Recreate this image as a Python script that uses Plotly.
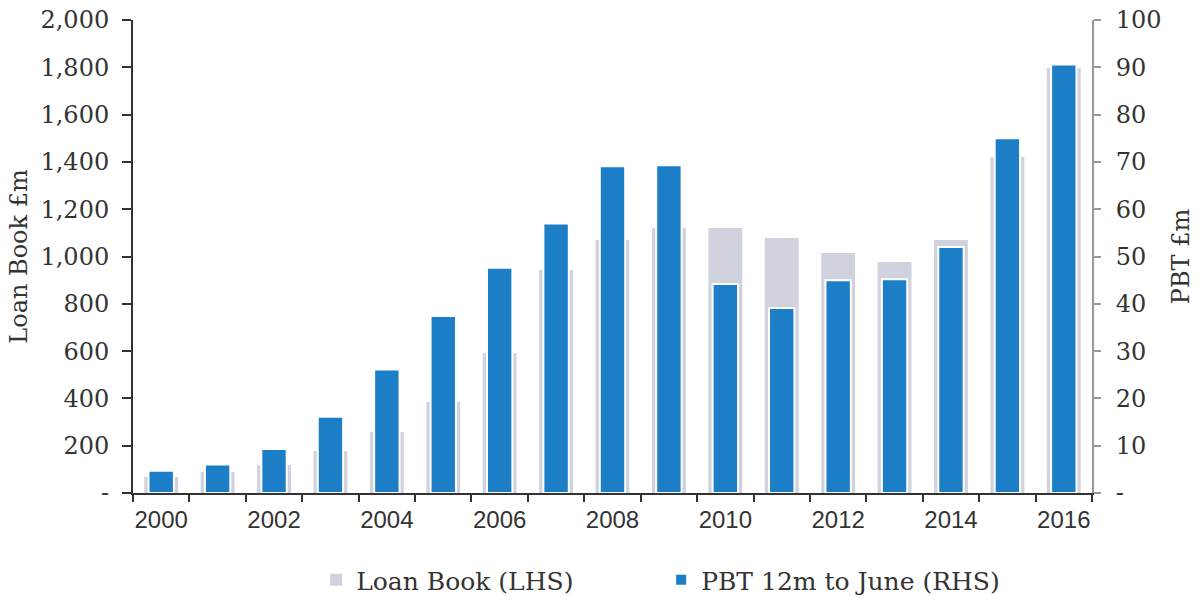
import plotly.graph_objects as go

# Financial years and the two series
years = [str(y) for y in range(2000, 2017)]
loan_book = [68, 89, 118, 178, 258, 385, 592, 943, 1070, 1120, 1120, 1078, 1015, 977, 1070, 1421, 1797]
pbt = [4.7, 6.0, 9.3, 16.1, 26.1, 37.4, 47.6, 57.0, 69.1, 69.3, 44.2, 39.1, 45.0, 45.2, 52.0, 75.0, 90.6]

x_labels = [y if int(y) % 2 == 0 else "" for y in years]
left_vals = list(range(0, 2001, 200))
left_text = ["-"] + [f"{v:,}" for v in left_vals[1:]]
right_vals = list(range(0, 101, 10))
right_text = ["-"] + [str(v) for v in right_vals[1:]]

GREY = "rgb(208,211,222)"
BLUE = "rgb(27,126,199)"
TEXT = "#333333"
SERIF = "Georgia, DejaVu Serif, serif"

fig = go.Figure()
fig.add_trace(go.Bar(
    x=years, y=loan_book, name="Loan Book (LHS)",
    marker=dict(color=GREY, line=dict(width=0)),
    width=0.6, yaxis="y",
))
fig.add_trace(go.Bar(
    x=years, y=pbt, name="PBT 12m to June (RHS)",
    marker=dict(color=BLUE, line=dict(color="white", width=2)),
    width=0.45, yaxis="y2",
))

fig.update_layout(
    width=1203, height=602,
    margin=dict(l=133, r=111, t=20, b=109, autoexpand=False),
    paper_bgcolor="white", plot_bgcolor="white",
    barmode="overlay",
    showlegend=True,
    legend=dict(
        orientation="h", x=0.191, xanchor="left", y=-0.184, yanchor="middle",
        font=dict(family=SERIF, size=25, color=TEXT),
        itemwidth=30, entrywidth=300, traceorder="normal",
    ),
    xaxis=dict(
        type="category", range=[-0.5, 16.5], automargin=False,
        tickmode="array", tickvals=years, ticktext=x_labels, tickangle=0,
        tickson="boundaries", ticks="outside", ticklen=7, tickwidth=2,
        tickcolor=TEXT, showline=True, linecolor=TEXT, linewidth=2,
        showgrid=False, zeroline=False, ticklabelstandoff=4,
        tickfont=dict(family="Liberation Sans, Arial, sans-serif", size=24, color=TEXT),
    ),
    yaxis=dict(
        range=[0, 2000], tickmode="array", tickvals=left_vals, ticktext=left_text,
        ticks="outside", ticklen=9, tickwidth=2, tickcolor=TEXT, automargin=False,
        showline=True, linecolor=TEXT, linewidth=2,
        showgrid=False, zeroline=False, ticklabelstandoff=8,
        tickfont=dict(family=SERIF, size=24, color=TEXT),
        title=dict(text="Loan Book £m", standoff=6,
                   font=dict(family=SERIF, size=24, color=TEXT)),
    ),
    yaxis2=dict(
        range=[0, 100], overlaying="y", side="right", automargin=False,
        tickmode="array", tickvals=right_vals, ticktext=right_text,
        ticks="outside", ticklen=7, tickwidth=2, tickcolor="#999999",
        showline=True, linecolor="#999999", linewidth=2,
        showgrid=False, zeroline=False, ticklabelstandoff=10,
        tickfont=dict(family=SERIF, size=24, color=TEXT),
        title=dict(text="PBT £m", standoff=12,
                   font=dict(family=SERIF, size=24, color=TEXT)),
    ),
)

fig.write_html("out.html")
